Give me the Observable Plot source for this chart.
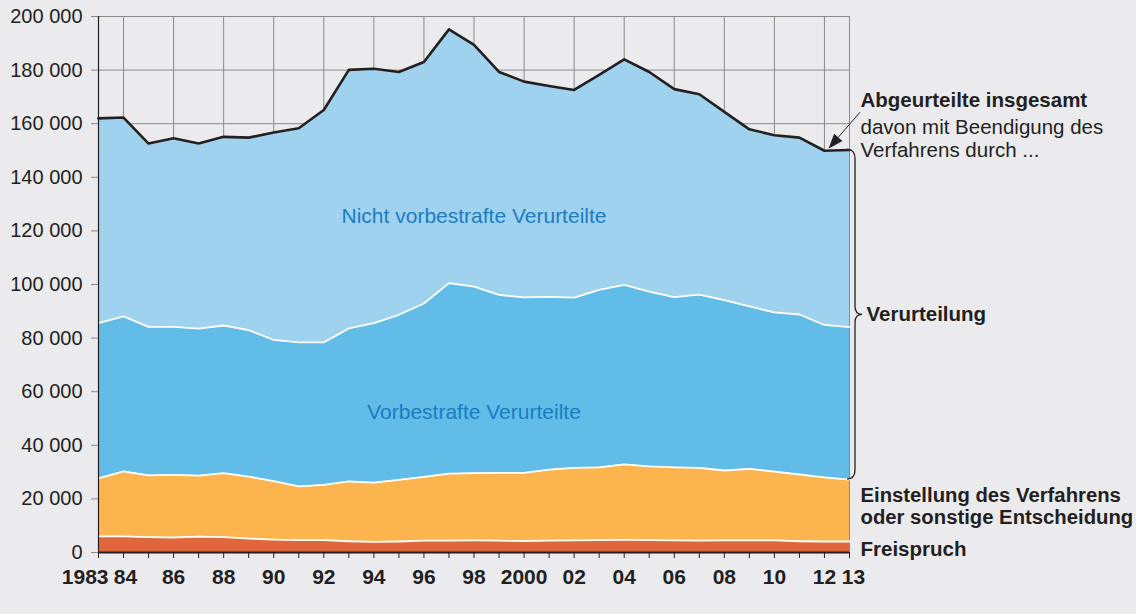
<!DOCTYPE html>
<html><head><meta charset="utf-8">
<script src="https://cdn.jsdelivr.net/npm/d3@7"></script>
<script src="https://cdn.jsdelivr.net/npm/@observablehq/plot@0.6"></script>
<style>
html,body{margin:0;padding:0;background:#ebebed;}
#chart svg{display:block;}
</style></head><body><div id="chart"></div>
<script>
const years = d3.range(1983, 2014);
// values in persons
const freispruch = [6000,6000,5700,5600,5900,5700,5200,4800,4600,4600,4200,4000,4100,4400,4400,4500,4400,4300,4400,4500,4600,4700,4600,4500,4400,4500,4500,4500,4200,4100,4100];
const einstellung = [21700,24300,23100,23400,22800,23900,23100,21800,20100,20600,22300,22100,23000,23800,25000,25100,25300,25400,26500,27100,27200,28200,27500,27300,27200,26100,26700,25700,24900,23900,23100];
const vorbestrafte = [57900,57800,55400,55200,54800,55100,54700,52700,53700,53200,57100,59500,61600,64700,71100,69600,66400,65500,64500,63500,66200,67000,65200,63500,64600,63600,60600,59400,59700,56900,56900];
const nichtVorbestrafte = [76400,74200,68400,70400,69100,70400,71800,77400,79900,86700,96500,94900,90600,90100,94700,90200,83200,80500,78700,77500,80200,84100,82000,77600,74800,70200,66100,66100,66000,65000,66100];

const seriesNames = ["Freispruch","Einstellung","Vorbestrafte","Nicht vorbestrafte"];
const seriesColors = ["#e0663b","#fcb54e","#61bde7","#9fd2ef"];
const seriesValues = [freispruch, einstellung, vorbestrafte, nichtVorbestrafte];

const yTicks = d3.range(0, 200001, 20000);
const gridYears = [...d3.range(1984, 2013, 2), 2013];
const labelYears = d3.range(1986, 2013, 2);
const labelTexts = labelYears.map(y => y === 2000 ? "2000" : String(y).slice(2));

const long = [];
seriesNames.forEach((s, i) => years.forEach((yr, j) => long.push({year: yr, series: s, value: seriesValues[i][j]})));
const totals = years.map((yr, j) => ({year: yr, total: seriesValues.reduce((a, arr) => a + arr[j], 0)}));
const total2013 = totals[totals.length - 1].total;
const bottomVerurteilung = freispruch[30] + einstellung[30];

const fmt = n => d3.format(",")(n).replace(/,/g, " ");
const FONT = "'Liberation Sans', Arial, Helvetica, sans-serif";

function annotations(index, scales) {
  const X = scales.x, Y = scales.y;
  const g = d3.create("svg:g");
  // brace
  const x0 = X(2013) + 6;
  const yT = Y(total2013), yB = Y(bottomVerurteilung), yM = (yT + yB) / 2;
  g.append("path")
    .attr("d", `M${x0-8},${yT} Q${x0},${yT} ${x0},${yT+9} L${x0},${yM-8} Q${x0},${yM} ${x0+7},${yM} Q${x0},${yM} ${x0},${yM+8} L${x0},${yB-9} Q${x0},${yB} ${x0-8},${yB}`)
    .attr("fill", "none").attr("stroke", "#222").attr("stroke-width", 1.3);
  // arrow
  const sx = X(2013.44), sy = Y(164100), tx = X(2012.18), ty = Y(150500);
  const ang = Math.atan2(ty - sy, tx - sx), L = 15, W = 5.5;
  const bx = tx - L * Math.cos(ang), by = ty - L * Math.sin(ang);
  g.append("line").attr("x1", sx).attr("y1", sy).attr("x2", bx).attr("y2", by).attr("stroke", "#222").attr("stroke-width", 1);
  g.append("path")
    .attr("d", `M${tx},${ty} L${bx + W*Math.sin(ang)},${by - W*Math.cos(ang)} L${bx - W*Math.sin(ang)},${by + W*Math.cos(ang)} Z`)
    .attr("fill", "#222");
  return g.node();
}

const xLab = {y: 0, dy: 25, fontSize: 21, fontWeight: "bold", fill: "#231f20"};

const chart = Plot.plot({
  width: 1136,
  height: 614,
  marginLeft: 98,
  marginRight: 287,
  marginTop: 16,
  marginBottom: 62,
  style: {fontFamily: FONT, background: "#ebebed", color: "#231f20", overflow: "visible"},
  x: {domain: [1983, 2013]},
  y: {domain: [0, 200000]},
  color: {domain: seriesNames, range: seriesColors},
  marks: [
    Plot.ruleX(gridYears, {stroke: "#8a8a8a", strokeWidth: 1}),
    Plot.ruleY(yTicks, {x1: 1983, x2: 2013, stroke: "#8a8a8a", strokeWidth: 1}),
    Plot.areaY(long, {x: "year", y: "value", z: "series", fill: "series", order: seriesNames}),
    Plot.lineY(long, Plot.stackY2({x: "year", y: "value", z: "series", order: seriesNames, stroke: "white", strokeWidth: 1.8})),
    Plot.lineY(totals, {x: "year", y: "total", stroke: "#231f20", strokeWidth: 2.6}),
    Plot.ruleX([1983], {stroke: "#231f20", strokeWidth: 1.2}),
    Plot.ruleY([0], {x1: 1983, x2: 2013, stroke: "#231f20", strokeWidth: 2}),
    Plot.axisY({ticks: yTicks, tickSize: 7, tickPadding: 9, tickFormat: fmt, fontSize: 20, label: null, stroke: "#8a8a8a"}),
    Plot.axisX({ticks: years, tickSize: 6, tickFormat: () => "", label: null, stroke: "#231f20"}),
    Plot.text([1983], {...xLab, x: d => d, text: d => String(d), dx: 10, textAnchor: "end"}),
    Plot.text([1984], {...xLab, x: d => d, text: d => String(d).slice(2), dx: 2}),
    Plot.text(labelYears, {...xLab, x: d => d, text: (d, i) => labelTexts[i], dx: 0}),
    Plot.text([2013], {...xLab, x: d => d, text: d => String(d).slice(2), dx: 4}),
    Plot.text(["Nicht vorbestrafte Verurteilte"], {x: 1998, y: 125300, text: d => d, fontSize: 21, fill: "#1b7cc2"}),
    Plot.text(["Vorbestrafte Verurteilte"], {x: 1998, y: 52200, text: d => d, fontSize: 21, fill: "#1b7cc2"}),
    Plot.text(["Abgeurteilte insgesamt"], {x: 2013, y: 168500, text: d => d, dx: 11, textAnchor: "start", fontSize: 20.5, fontWeight: "bold", fill: "#231f20"}),
    Plot.text(["davon mit Beendigung des\nVerfahrens durch ..."], {x: 2013, y: 158100, text: d => d, dx: 11, textAnchor: "start", lineHeight: 1.12, fontSize: 20.5, fill: "#231f20", dy: 9}),
    Plot.text(["Verurteilung"], {x: 2013, y: (total2013 + bottomVerurteilung) / 2, text: d => d, dx: 17, textAnchor: "start", fontSize: 20.5, fontWeight: "bold", fill: "#231f20"}),
    Plot.text(["Einstellung des Verfahrens\noder sonstige Entscheidung"], {x: 2013, y: 17500, text: d => d, dx: 11, textAnchor: "start", lineHeight: 1.08, fontSize: 20.3, fontWeight: "bold", fill: "#231f20"}),
    Plot.text(["Freispruch"], {x: 2013, y: 1100, text: d => d, dx: 11, textAnchor: "start", fontSize: 20.5, fontWeight: "bold", fill: "#231f20"}),
    annotations
  ]
});
document.getElementById("chart").append(chart);
</script>
</body></html>
